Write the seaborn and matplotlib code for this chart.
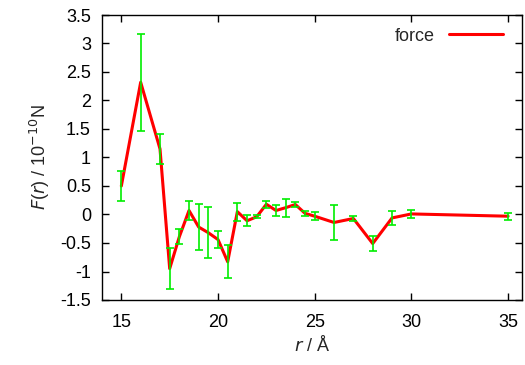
import matplotlib
matplotlib.use("Agg")
import matplotlib.pyplot as plt
import seaborn as sns
import pandas as pd

r_vals = [15, 16, 17, 17.5, 18, 18.5, 19, 19.5, 20, 20.5, 21, 21.5, 22, 22.5,
          23, 23.5, 24, 24.5, 25, 26, 27, 28, 29, 30, 35]
force = [0.50, 2.32, 1.15, -0.95, -0.39, 0.07, -0.22, -0.32, -0.44, -0.83, 0.05,
         -0.11, -0.04, 0.18, 0.07, 0.12, 0.175, 0.02, -0.03, -0.14, -0.07, -0.51,
         -0.06, 0.01, -0.03]
err = [0.27, 0.85, 0.27, 0.36, 0.13, 0.16, 0.40, 0.45, 0.15, 0.29, 0.16,
       0.10, 0.03, 0.06, 0.10, 0.16, 0.05, 0.04, 0.07, 0.30, 0.04, 0.13,
       0.12, 0.07, 0.065]

x_ticks = [15, 20, 25, 30, 35]
y_ticks = [-1.5, -1, -0.5, 0, 0.5, 1, 1.5, 2, 2.5, 3, 3.5]
y_ticklabels = ["-1.5", "-1", "-0.5", "0", "0.5", "1", "1.5", "2", "2.5", "3", "3.5"]

df = pd.DataFrame({"r": r_vals, "F": force, "err": err})

sns.set_theme(style="ticks")
plt.rcParams["font.family"] = ["Liberation Sans", "DejaVu Sans"]

fig = plt.figure(figsize=(5.25, 3.65), dpi=100)
ax = fig.add_axes([102 / 525, 1 - 300 / 365, (522 - 102) / 525, (300 - 15) / 365])

sns.lineplot(data=df, x="r", y="F", ax=ax, color="#ff0000", linewidth=2.2,
             label="force", zorder=2, errorbar=None)
ax.errorbar(df["r"], df["F"], yerr=df["err"], fmt="none", ecolor="#00ee00",
            elinewidth=1.2, capsize=2.8, capthick=1.2, zorder=3)

ax.set_xlim(14, 35.72)
ax.set_ylim(-1.5, 3.5)
ax.set_xticks(x_ticks)
ax.set_xticklabels([str(t) for t in x_ticks])
ax.set_yticks(y_ticks)
ax.set_yticklabels(y_ticklabels)
ax.tick_params(direction="in", top=True, right=True, length=5, width=1,
               labelsize=13, colors="black")
ax.tick_params(axis="x", pad=10)
ax.tick_params(axis="y", pad=8)
for s in ax.spines.values():
    s.set_visible(True)
    s.set_color("black")
    s.set_linewidth(1.0)

ax.set_xlabel(r"$\mathit{r}$ / Å", fontsize=13, labelpad=3)
ax.set_ylabel(r"$\mathit{F}$($\mathit{r}$) / 10$^{-10}$N", fontsize=13, labelpad=6)

leg = ax.legend(loc="upper right", frameon=False, markerfirst=False,
                fontsize=13, handlelength=3.0, borderaxespad=0.3,
                bbox_to_anchor=(0.985, 1.0))

fig.savefig("out.png", dpi=100)
